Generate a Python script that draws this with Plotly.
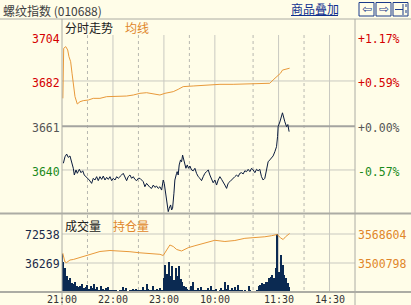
import plotly.graph_objects as go

# ---------------- data ----------------
pre_close = 3661

price_t = [1.6, 3.5, 5.5, 7.4, 9.4, 11.4, 13.3, 14.5, 16.5, 18, 20.4, 22.4, 24.4, 26.2, 28.2, 30.2,
           32.1, 34.9, 36.8, 38.8, 40.8, 42.7, 44.7, 46.7, 48.6, 50.6, 52.6, 54.5, 56.5, 58.5, 60.4,
           62.4, 64.4, 66.2, 68.2, 70.2, 72.1, 74.1, 76.1, 78, 80, 82, 83.9, 85.9, 87.9, 89.8,
           91.8, 95.7, 97.6, 99.6, 101.6, 103.5, 105.5, 107.5, 109.4, 111.4, 113.3, 115.3, 117.3,
           119.2, 120.4, 122, 123.2, 125.1, 126.3, 127.9, 129.1, 130.2, 131.8, 132.9, 134.9, 135.6,
           136.8, 138, 139.6, 140.8, 142, 143.5, 144.7, 145.9, 147.5, 149, 150.6, 152.6, 154.5,
           156.5, 158.4, 160.4, 162.4, 164.3, 166.3, 168.2, 170.2, 172.2, 174.1, 176.1, 178, 180,
           182, 183.9, 185.9, 187.9, 189.8, 191.8, 193.8, 195.6, 197.6, 199.6, 201.5, 203.5, 205.5,
           207.4, 209.4, 211.4, 213.3, 215.3, 217.3, 219.2, 221.2, 223.2, 225.1, 227.1, 229.1,
           230.9, 232.9, 234.9, 236.8, 238.8, 240.8, 242.7, 244.7, 246.7, 248.6, 250.6, 252.6,
           253.8, 254.5, 256.5, 259.6, 262.4, 264.4, 265.9, 267.4]
price = [3643.3, 3646.4, 3647.7, 3646.1, 3646.8, 3644.0, 3640.9, 3637.7, 3640.1, 3638.5, 3640.4,
         3638.8, 3639.7, 3637.7, 3636.9, 3636.1, 3635.3, 3633.7, 3636.1, 3635.3, 3636.9, 3635.0,
         3636.9, 3635.6, 3637.2, 3635.3, 3636.6, 3635.6, 3636.9, 3635.0, 3636.1, 3635.3, 3636.9,
         3636.1, 3637.2, 3637.7, 3638.5, 3636.6, 3635.0, 3636.9, 3637.7, 3636.1, 3636.9, 3635.6,
         3635.0, 3636.1,
         3636.1, 3634.5, 3632.1, 3633.7, 3632.4, 3631.8, 3631.3, 3632.9, 3631.8, 3632.4, 3631.3,
         3632.1, 3630.5, 3635.3, 3633.7, 3629.0, 3624.2, 3620.2, 3621.8, 3623.4, 3621.0, 3621.8,
         3629.0, 3635.3, 3638.5, 3639.3, 3637.7, 3642.5, 3644.9, 3644.0, 3647.2, 3644.9, 3642.5,
         3640.9, 3642.5, 3640.9, 3642.0, 3640.1, 3639.7, 3640.9, 3638.5, 3636.9, 3636.1, 3635.0,
         3636.9, 3638.5, 3639.3, 3640.1, 3637.7, 3635.3, 3634.0, 3635.3, 3632.9, 3635.3, 3636.9,
         3635.6, 3634.5, 3632.9, 3631.3, 3633.7, 3634.5, 3635.3, 3635.6, 3636.9, 3637.7, 3636.9,
         3638.5, 3638.8, 3638.2, 3639.7, 3639.3, 3640.4, 3639.3, 3640.9, 3640.1, 3638.8, 3640.4,
         3639.7, 3640.4, 3636.9, 3635.3, 3636.1, 3640.1, 3644.0, 3644.9, 3646.1, 3646.8, 3648.8,
         3651.2, 3656.0, 3660.8, 3663.0, 3667.4, 3663.1, 3660.8, 3661.8, 3658.4]

avg_t = [1, 2, 4.4, 6.7, 8.2, 10.2, 11.8, 13.3, 15.3, 18, 21.2, 25, 31, 36.8, 44.7, 52.6, 64.4,
         76, 84, 91.8, 99.6, 107.4, 115.3, 121.2, 131, 136.8, 142.7, 154.5, 170, 186, 201.5,
         217.3, 233, 240.8, 244.7, 248.6, 253.3, 257.3, 259.6, 262.4, 266.2, 268]
avg = [3674.3, 3698.2, 3699.0, 3697.4, 3694.2, 3691.8, 3686.3, 3679.9, 3675.1, 3671.6, 3672.7,
       3673.2, 3673.5, 3674.3, 3674.3, 3675.1, 3675.1, 3675.4, 3675.9, 3676.7, 3677.0, 3676.4,
       3675.9, 3676.7, 3677.5, 3678.6, 3679.9, 3680.2, 3680.7, 3681.0, 3681.0, 3681.2, 3681.5,
       3681.8, 3681.5, 3683.1, 3684.6, 3686.3, 3687.8, 3688.2, 3688.5, 3688.7]

vol_t = list(range(0, 270, 2))
vol_k = [48, 38, 30, 20, 15, 17, 11, 10, 13, 8,
         6, 7, 10, 5, 6, 9, 4, 7, 5, 10,
         4, 6, 3, 7, 4, 2, 5, 6, 2, 3,
         2, 1.5, 2, 1, 3, 2, 6, 2, 5, 1,
         3, 2, 4, 1.5, 4, 2, 3, 2, 6, 3,
         10, 4, 3, 2, 8, 3, 4, 2, 5, 3,
         17, 34, 22, 38, 20, 33, 15, 30, 20, 33,
         16, 12, 8, 6, 4, 3, 7, 13, 3, 2,
         5, 2, 6, 2, 3, 1.5, 5, 2, 7, 3,
         2, 4, 1, 3, 5, 2, 13, 4, 9, 2,
         5, 1.5, 6, 2, 9, 3, 2, 1, 3, 1,
         7, 2, 1, 0.5, 1, 2, 7, 9, 11, 10,
         13, 12, 17, 19, 21, 18, 30, 72, 25, 46,
         34, 21, 17, 11, 6]
volume = [v * 1000 for v in vol_k]

oi_t = [0.8, 3.5, 5.5, 9.4, 13.3, 21.2, 32.9, 44.7, 56.5, 68.2, 80, 91.8, 103.5, 115.3, 119.2,
        122.4, 127, 131, 135, 140.8, 148.6, 156.5, 168.2, 180, 191.8, 203.5, 215.3, 227, 238.8,
        246.7, 253.3, 257.6, 260.4, 263.2, 266.2, 268]
oi = [3524200, 3503100, 3502000, 3507800, 3509000, 3513700, 3521800, 3527700, 3530000, 3529300,
      3527200, 3524600, 3522500, 3521100, 3518300, 3528900, 3542900, 3539400, 3532400, 3528900,
      3536600, 3541200, 3546900, 3553900, 3551100, 3553400, 3558500, 3559700, 3562100, 3564600,
      3567400, 3559200, 3555700, 3562100, 3567000, 3569800]

price_ticks = [3703.8, 3682.6, 3661.0, 3640.1]
price_tick_text = ["3704", "3682", "3661", "3640"]
pct_tick_text = ["+1.17%", "+0.59%", "+0.00%", "-0.57%"]
vol_ticks = [72538, 36269]
oi_ticks = [3568604, 3500798]
time_ticks = [0, 60, 120, 180, 255, 315]
time_text = ["21:00", "22:00", "23:00", "10:00", "11:30", "14:30"]
half_ticks = [30, 90, 150, 225, 285]
total_minutes = 345

# ---------------- styling / geometry ----------------
W, H = 411, 305
BG = "#FFFDE8"
L, R = 62, 355
PT, PB = 19, 213
VT, VB = 214, 292
RED, GREEN, GRAY = "#D40000", "#1A8A1A", "#555555"
NAVY = "#0A1B3D"
ORANGE = "#E8993A"
GRID = "#C9C9C0"
SEP = "#ACACA4"
MONO = "DejaVu Sans Mono"
CJK = "Noto Sans CJK SC"


def px(x):
    return x / W


def py(y):
    return 1 - y / H


ppp = (170 - 81) / (price_ticks[1] - price_ticks[3])
zero_px = 126.2
price_range = [pre_close - (PB - zero_px) / ppp, pre_close + (zero_px - PT) / ppp]
vpp = (263 - 234) / vol_ticks[1]
vol_range = [0, (VB - VT) / vpp]
opp = (263 - 234) / (oi_ticks[0] - oi_ticks[1])
oi_range = [oi_ticks[1] - (VB - 263) / opp, oi_ticks[0] + (234 - VT) / opp]

fig = go.Figure()
fig.add_trace(go.Bar(x=vol_t, y=volume, xaxis="x2", yaxis="y2", width=1.75,
                     marker=dict(color="#0B2A52", line=dict(width=0))))
fig.add_trace(go.Scatter(x=oi_t, y=oi, xaxis="x2", yaxis="y3", mode="lines",
                         line=dict(color=ORANGE, width=1)))
fig.add_trace(go.Scatter(x=avg_t, y=avg, mode="lines", line=dict(color=ORANGE, width=1)))
fig.add_trace(go.Scatter(x=price_t, y=price, mode="lines", line=dict(color=NAVY, width=1)))

shapes = []
# vertical gridlines
for t in time_ticks[1:]:
    shapes.append(dict(type="line", xref="x", yref="paper", x0=t, x1=t, y0=py(35), y1=py(VB),
                       line=dict(color=GRID, width=1), layer="below"))
for t in half_ticks:
    shapes.append(dict(type="line", xref="x", yref="paper", x0=t, x1=t, y0=py(35), y1=py(VB),
                       line=dict(color="#B8B8B0", width=1, dash="dot"), layer="below"))
# horizontal gridlines
for v in [price_ticks[1], price_ticks[3]]:
    shapes.append(dict(type="line", xref="paper", yref="y", x0=px(L), x1=px(R), y0=v, y1=v,
                       line=dict(color=GRID, width=1), layer="below"))
shapes.append(dict(type="line", xref="paper", yref="y", x0=px(L), x1=px(R), y0=pre_close, y1=pre_close,
                   line=dict(color="#A4A4A0", width=2), layer="below"))
for v in vol_ticks:
    shapes.append(dict(type="line", xref="paper", yref="y2", x0=px(L), x1=px(R), y0=v, y1=v,
                       line=dict(color=GRID, width=1), layer="below"))
# frame lines
shapes += [
    dict(type="line", xref="paper", yref="paper", x0=0, x1=1, y0=py(19), y1=py(19),
         line=dict(color=SEP, width=1)),
    dict(type="line", xref="paper", yref="paper", x0=0, x1=1, y0=py(213.5), y1=py(213.5),
         line=dict(color=SEP, width=2)),
    dict(type="line", xref="paper", yref="paper", x0=0, x1=1, y0=py(292), y1=py(292),
         line=dict(color=SEP, width=2)),
    dict(type="line", xref="paper", yref="paper", x0=px(L), x1=px(L), y0=py(19), y1=py(H),
         line=dict(color=SEP, width=1)),
    dict(type="line", xref="paper", yref="paper", x0=px(R), x1=px(R), y0=py(19), y1=py(H),
         line=dict(color=SEP, width=1)),
]
# title bar link underline + icons
ICON = "#1A3A8A"
shapes.append(dict(type="line", xref="paper", yref="paper", x0=px(291), x1=px(338), y0=py(15.5), y1=py(15.5),
                   line=dict(color="#103090", width=1)))
for x0 in [359, 376, 393]:
    shapes.append(dict(type="rect", xref="paper", yref="paper", x0=px(x0), x1=px(x0 + 15),
                       y0=py(16), y1=py(2.5), line=dict(color=ICON, width=1), fillcolor=BG))
shapes += [
    dict(type="line", xref="paper", yref="paper", x0=px(395), x1=px(403), y0=py(9.5), y1=py(9.5),
         line=dict(color=ICON, width=1)),
    dict(type="line", xref="paper", yref="paper", x0=px(403), x1=px(403), y0=py(4), y1=py(15),
         line=dict(color=ICON, width=1)),
    dict(type="line", xref="paper", yref="paper", x0=px(406), x1=px(406), y0=py(4), y1=py(15),
         line=dict(color=ICON, width=1, dash="dot")),
]

ann = []
colors = [RED, RED, GRAY, GREEN]
for v, t1, t2, c in zip(price_ticks, price_tick_text, pct_tick_text, colors):
    ann.append(dict(xref="paper", yref="y", x=px(L), y=v, text=t1, xanchor="right", yanchor="middle",
                    yshift=-2, showarrow=False, font=dict(family=MONO, size=11.5, color=c)))
    ann.append(dict(xref="paper", yref="y", x=px(R + 1), y=v, text=t2, xanchor="left", yanchor="middle",
                    yshift=-2, showarrow=False, font=dict(family=MONO, size=11.5, color=c)))
for v in vol_ticks:
    ann.append(dict(xref="paper", yref="y2", x=px(L), y=v, text=str(v), xanchor="right", yanchor="middle",
                    yshift=-1, showarrow=False, font=dict(family=MONO, size=11.5, color="#1A2A4A")))
for v in oi_ticks:
    ann.append(dict(xref="paper", yref="y3", x=px(R + 1), y=v, text=str(v), xanchor="left", yanchor="middle",
                    yshift=-1, showarrow=False, font=dict(family=MONO, size=11.5, color="#E0862A")))
for t, s in zip(time_ticks, time_text):
    ann.append(dict(xref="x2", yref="paper", x=t, y=py(299.5), text=s, xanchor="center", yanchor="middle",
                    showarrow=False, font=dict(family=MONO, size=10, color="#333333")))


def label(x, y, text, color, size=12, anchor="left", family=CJK):
    ann.append(dict(xref="paper", yref="paper", x=px(x), y=py(y), text=text, xanchor=anchor,
                    yanchor="middle", showarrow=False, font=dict(family=family, size=size, color=color)))


label(1, 10, "螺纹指数 (010688)", "#404040", 12)
label(314.5, 9, "商品叠加", "#103090", 12, "center")
label(366.5, 9, "⇦", ICON, 12, "center", "DejaVu Sans")
label(383.5, 9, "⇨", ICON, 12, "center", "DejaVu Sans")
label(63, 27, "分时走势", "#202020", 12)
label(123, 27, "均线", "#E0862A", 12)
label(63, 225, "成交量", "#202020", 12)
label(111, 225, "持仓量", "#E0862A", 12)

hidden = dict(visible=False, showgrid=False, zeroline=False, fixedrange=True)
fig.update_layout(
    width=W, height=H, margin=dict(l=0, r=0, t=0, b=0),
    paper_bgcolor=BG, plot_bgcolor="rgba(0,0,0,0)", showlegend=False, bargap=0,
    xaxis=dict(domain=[px(L), px(R)], range=[0, total_minutes], anchor="y", **hidden),
    yaxis=dict(domain=[py(PB), py(PT)], range=price_range, anchor="x", **hidden),
    xaxis2=dict(domain=[px(L), px(R)], range=[0, total_minutes], anchor="y2", **hidden),
    yaxis2=dict(domain=[py(VB), py(VT)], range=vol_range, anchor="x2", **hidden),
    yaxis3=dict(range=oi_range, overlaying="y2", anchor="x2", **hidden),
    shapes=shapes, annotations=ann,
)
fig.write_html("out.html")
